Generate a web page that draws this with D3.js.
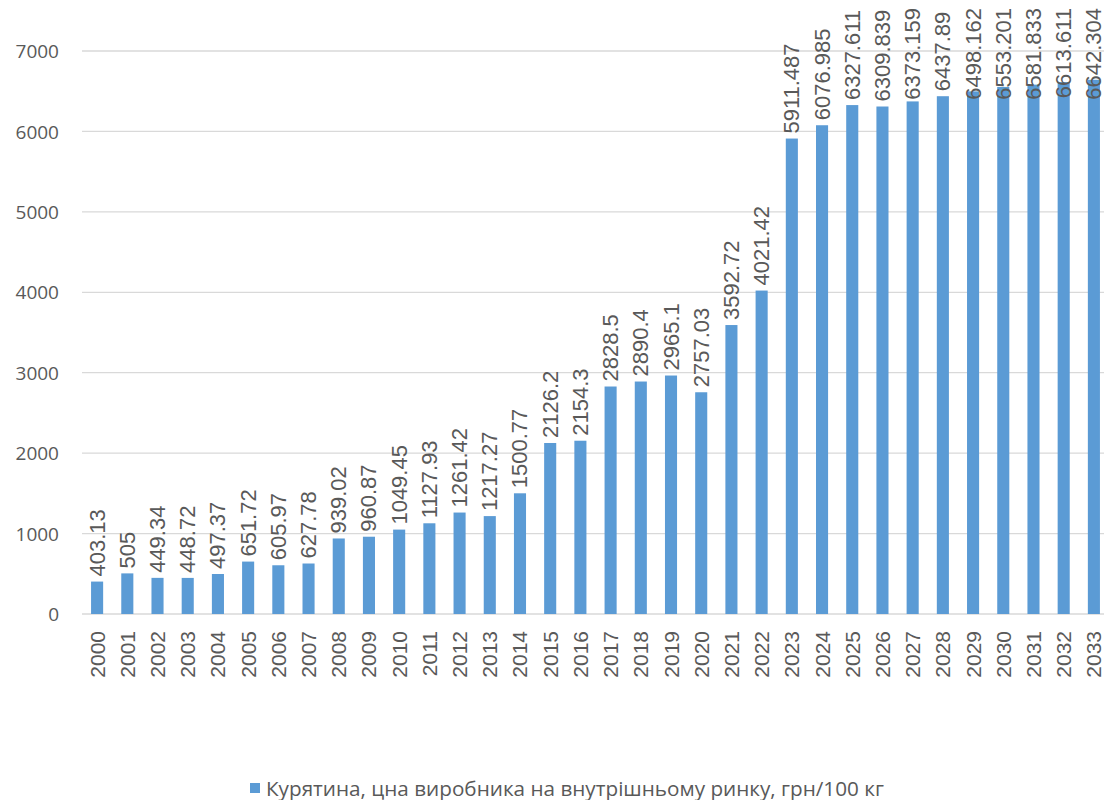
<!DOCTYPE html>
<html>
<head>
<meta charset="utf-8">
<script src="https://cdn.jsdelivr.net/npm/d3@7"></script>
<style>
  html, body { margin: 0; padding: 0; background: #fff; }
  svg { display: block; }
</style>
</head>
<body>
<svg id="chart" width="1104" height="800"></svg>
<script>
// Producer price of chicken on the domestic market, UAH per 100 kg
const years = ["2000","2001","2002","2003","2004","2005","2006","2007","2008","2009",
  "2010","2011","2012","2013","2014","2015","2016","2017","2018","2019",
  "2020","2021","2022","2023","2024","2025","2026","2027","2028","2029",
  "2030","2031","2032","2033"];
const prices = [403.13, 505, 449.34, 448.72, 497.37, 651.72, 605.97, 627.78, 939.02, 960.87,
  1049.45, 1127.93, 1261.42, 1217.27, 1500.77, 2126.2, 2154.3, 2828.5, 2890.4, 2965.1,
  2757.03, 3592.72, 4021.42, 5911.487, 6076.985, 6327.611, 6309.839, 6373.159, 6437.89, 6498.162,
  6553.201, 6581.833, 6613.611, 6642.304];
const priceLabels = ["403.13","505","449.34","448.72","497.37","651.72","605.97","627.78","939.02","960.87",
  "1049.45","1127.93","1261.42","1217.27","1500.77","2126.2","2154.3","2828.5","2890.4","2965.1",
  "2757.03","3592.72","4021.42","5911.487","6076.985","6327.611","6309.839","6373.159","6437.89","6498.162",
  "6553.201","6581.833","6613.611","6642.304"];
const yTicks = [0, 1000, 2000, 3000, 4000, 5000, 6000, 7000];
const seriesName = "Курятина, цна виробника на внутрішньому ринку, грн/100 кг";

const svg = d3.select("#chart");
const textColor = "#595959";
const barColor = "#5B9BD5";
const font = "'Liberation Sans', Arial, sans-serif";

const x = d3.scaleBand().domain(years).range([82, 1109]).paddingInner(0.6).paddingOuter(0.3);
const y = d3.scaleLinear().domain([0, 7000]).range([614, 51]);

// horizontal gridlines
svg.append("g").selectAll("line").data(yTicks).join("line")
  .attr("x1", 82).attr("x2", 1104)
  .attr("y1", d => y(d)).attr("y2", d => y(d))
  .attr("stroke", "#d9d9d9").attr("stroke-width", 1.3);

// y axis labels
const yAxis = d3.axisLeft(y).tickValues(yTicks).tickSize(0).tickPadding(0).tickFormat(d3.format("d"));
svg.append("g").attr("transform", "translate(59,0)").call(yAxis)
  .call(g => g.select(".domain").remove())
  .call(g => g.selectAll("text").attr("fill", textColor).attr("font-size", 19).attr("font-family", "'Open Sans', sans-serif").attr("dy", "0.35em"));

// bars
svg.append("g").selectAll("rect").data(prices).join("rect")
  .attr("x", (d, i) => x(years[i]))
  .attr("width", x.bandwidth())
  .attr("y", d => y(d))
  .attr("height", d => y(0) - y(d))
  .attr("fill", barColor);

// x axis (category labels, rotated)
const xAxis = d3.axisBottom(x).tickSize(0).tickPadding(0);
svg.append("g").attr("transform", "translate(0,614)").call(xAxis)
  .call(g => g.select(".domain").remove())
  .call(g => g.selectAll("text")
    .attr("fill", textColor).attr("font-size", 21).attr("font-family", font)
    .attr("text-anchor", "end").attr("dy", null)
    .attr("transform", "translate(0,17) rotate(-90)").attr("x", 0).attr("y", 0)
    .attr("dominant-baseline", "central"));

// value labels above bars; kept inside the top edge of the chart
const topLimit = 8;
svg.append("g").selectAll("text").data(prices).join("text")
  .attr("dominant-baseline", "central")
  .attr("text-anchor", "start")
  .attr("fill", textColor).attr("font-size", 22).attr("font-family", font)
  .text((d, i) => priceLabels[i])
  .each(function (d, i) {
    const len = this.getComputedTextLength();
    let start = y(d) - 5;
    if (start - len < topLimit) start = topLimit + len;
    d3.select(this).attr("transform",
      `translate(${x(years[i]) + x.bandwidth() / 2},${start}) rotate(-90)`);
  });

// legend
const legend = svg.append("g").attr("transform", "translate(250,788)");
legend.append("rect").attr("x", 0).attr("y", -5).attr("width", 10).attr("height", 10).attr("fill", barColor);
legend.append("text").attr("x", 16).attr("y", 0).attr("dominant-baseline", "central")
  .attr("fill", textColor).attr("font-size", 20.7).attr("font-family", "'Open Sans', sans-serif")
  .text(seriesName);
</script>
</body>
</html>
